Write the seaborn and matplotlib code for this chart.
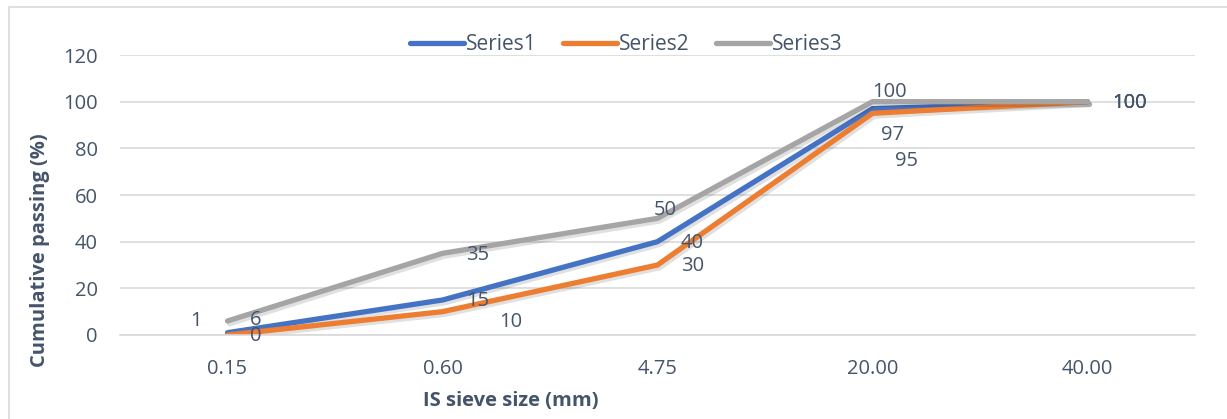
import matplotlib
matplotlib.use("Agg")
import matplotlib.pyplot as plt
import matplotlib.patheffects as pe
from matplotlib.patches import Rectangle
from matplotlib.lines import Line2D
import seaborn as sns
import pandas as pd

# Sieve sizes (categorical) and cumulative passing for each series
sieve_sizes = ["0.15", "0.60", "4.75", "20.00", "40.00"]
series1 = [1, 15, 40, 97, 100]
series2 = [0, 10, 30, 95, 100]
series3 = [6, 35, 50, 100, 100]
series_names = ["Series1", "Series2", "Series3"]

colors = ["#4472C4", "#ED7D31", "#A5A5A5"]
text_color = "#44546A"
grid_color = "#D9D9D9"

sns.set_theme(style="white")
plt.rcParams["font.family"] = ["Open Sans", "DejaVu Sans"]

df = pd.DataFrame({
    "size": sieve_sizes * 3,
    "passing": series1 + series2 + series3,
    "series": sum([[n] * len(sieve_sizes) for n in series_names], []),
})

fig = plt.figure(figsize=(12.27, 4.19), dpi=100)
ax = fig.add_axes([120 / 1227, 1 - 335 / 419, 1075 / 1227, 280 / 419])

shadow = [pe.SimpleLineShadow(offset=(1.5, -2), shadow_color="black", alpha=0.12),
          pe.Normal()]
for name, col in zip(series_names, colors):
    sub = df[df["series"] == name]
    sns.lineplot(data=sub, x="size", y="passing", ax=ax, color=col, linewidth=3.8,
                 solid_capstyle="round", solid_joinstyle="miter", legend=False,
                 path_effects=shadow, sort=False)

ax.set_xlim(-0.5, len(sieve_sizes) - 0.5)
ax.set_ylim(0, 120)
ax.set_yticks(range(0, 121, 20))
ax.set_xticks(range(len(sieve_sizes)))
ax.set_xticklabels(sieve_sizes)
ax.set_xticks([i - 0.5 for i in range(len(sieve_sizes) + 1)], minor=True)
ax.yaxis.grid(True, color=grid_color, linewidth=1.2)
ax.set_axisbelow(True)
for s in ["top", "right", "left"]:
    ax.spines[s].set_visible(False)
ax.spines["bottom"].set_color(grid_color)
ax.spines["bottom"].set_linewidth(1.2)
fs = 14.5
ax.tick_params(axis="x", which="major", length=0, pad=17, labelsize=fs, labelcolor=text_color)
ax.tick_params(axis="x", which="minor", length=6, width=1.2, color=grid_color, direction="out")
ax.tick_params(axis="y", length=0, pad=16, labelsize=fs, labelcolor=text_color)
ax.set_xlabel("")
ax.set_ylabel("")

# Data labels (offsets in pixels from each point)
offsets = {
    "Series1": [(-32, 12), (35, -1), (35, -1), (20, -26), (42, -1)],
    "Series2": [(28, -1), (68, -10), (35, -1), (34, -48), (42, -1)],
    "Series3": [(28, 1), (35, -2), (8, 8), (17, 10), (42, -1)],
}
for name, vals in zip(series_names, [series1, series2, series3]):
    for i, v in enumerate(vals):
        ax.annotate(str(v), (i, v), xytext=offsets[name][i], textcoords="offset pixels",
                    ha="center", va="center", fontsize=fs, color=text_color)

# Legend
handles = [Line2D([], [], color=c, linewidth=3.8, solid_capstyle="round") for c in colors]
fig.legend(handles, series_names, loc="center", bbox_to_anchor=(626 / 1227, 1 - 45 / 419),
           ncol=3, frameon=False, fontsize=15, labelcolor=text_color,
           handlelength=2.6, handletextpad=0.1, columnspacing=1.25)

fig.text(40 / 1227, 1 - 250 / 419, "Cumulative passing (%)", rotation=90, ha="center",
         va="center", fontsize=14.5, fontweight="bold", color=text_color)
fig.text(511 / 1227, 1 - 401 / 419, "IS sieve size (mm)", ha="center", va="center",
         fontsize=14.5, fontweight="bold", color=text_color)

# Chart area border
fig.patches.append(Rectangle((9 / 1227, -0.05), 1.1, 1 - 7 / 419 + 0.05, transform=fig.transFigure,
                             fill=False, edgecolor=grid_color, linewidth=1.2))

fig.savefig("out.png", dpi=100)
